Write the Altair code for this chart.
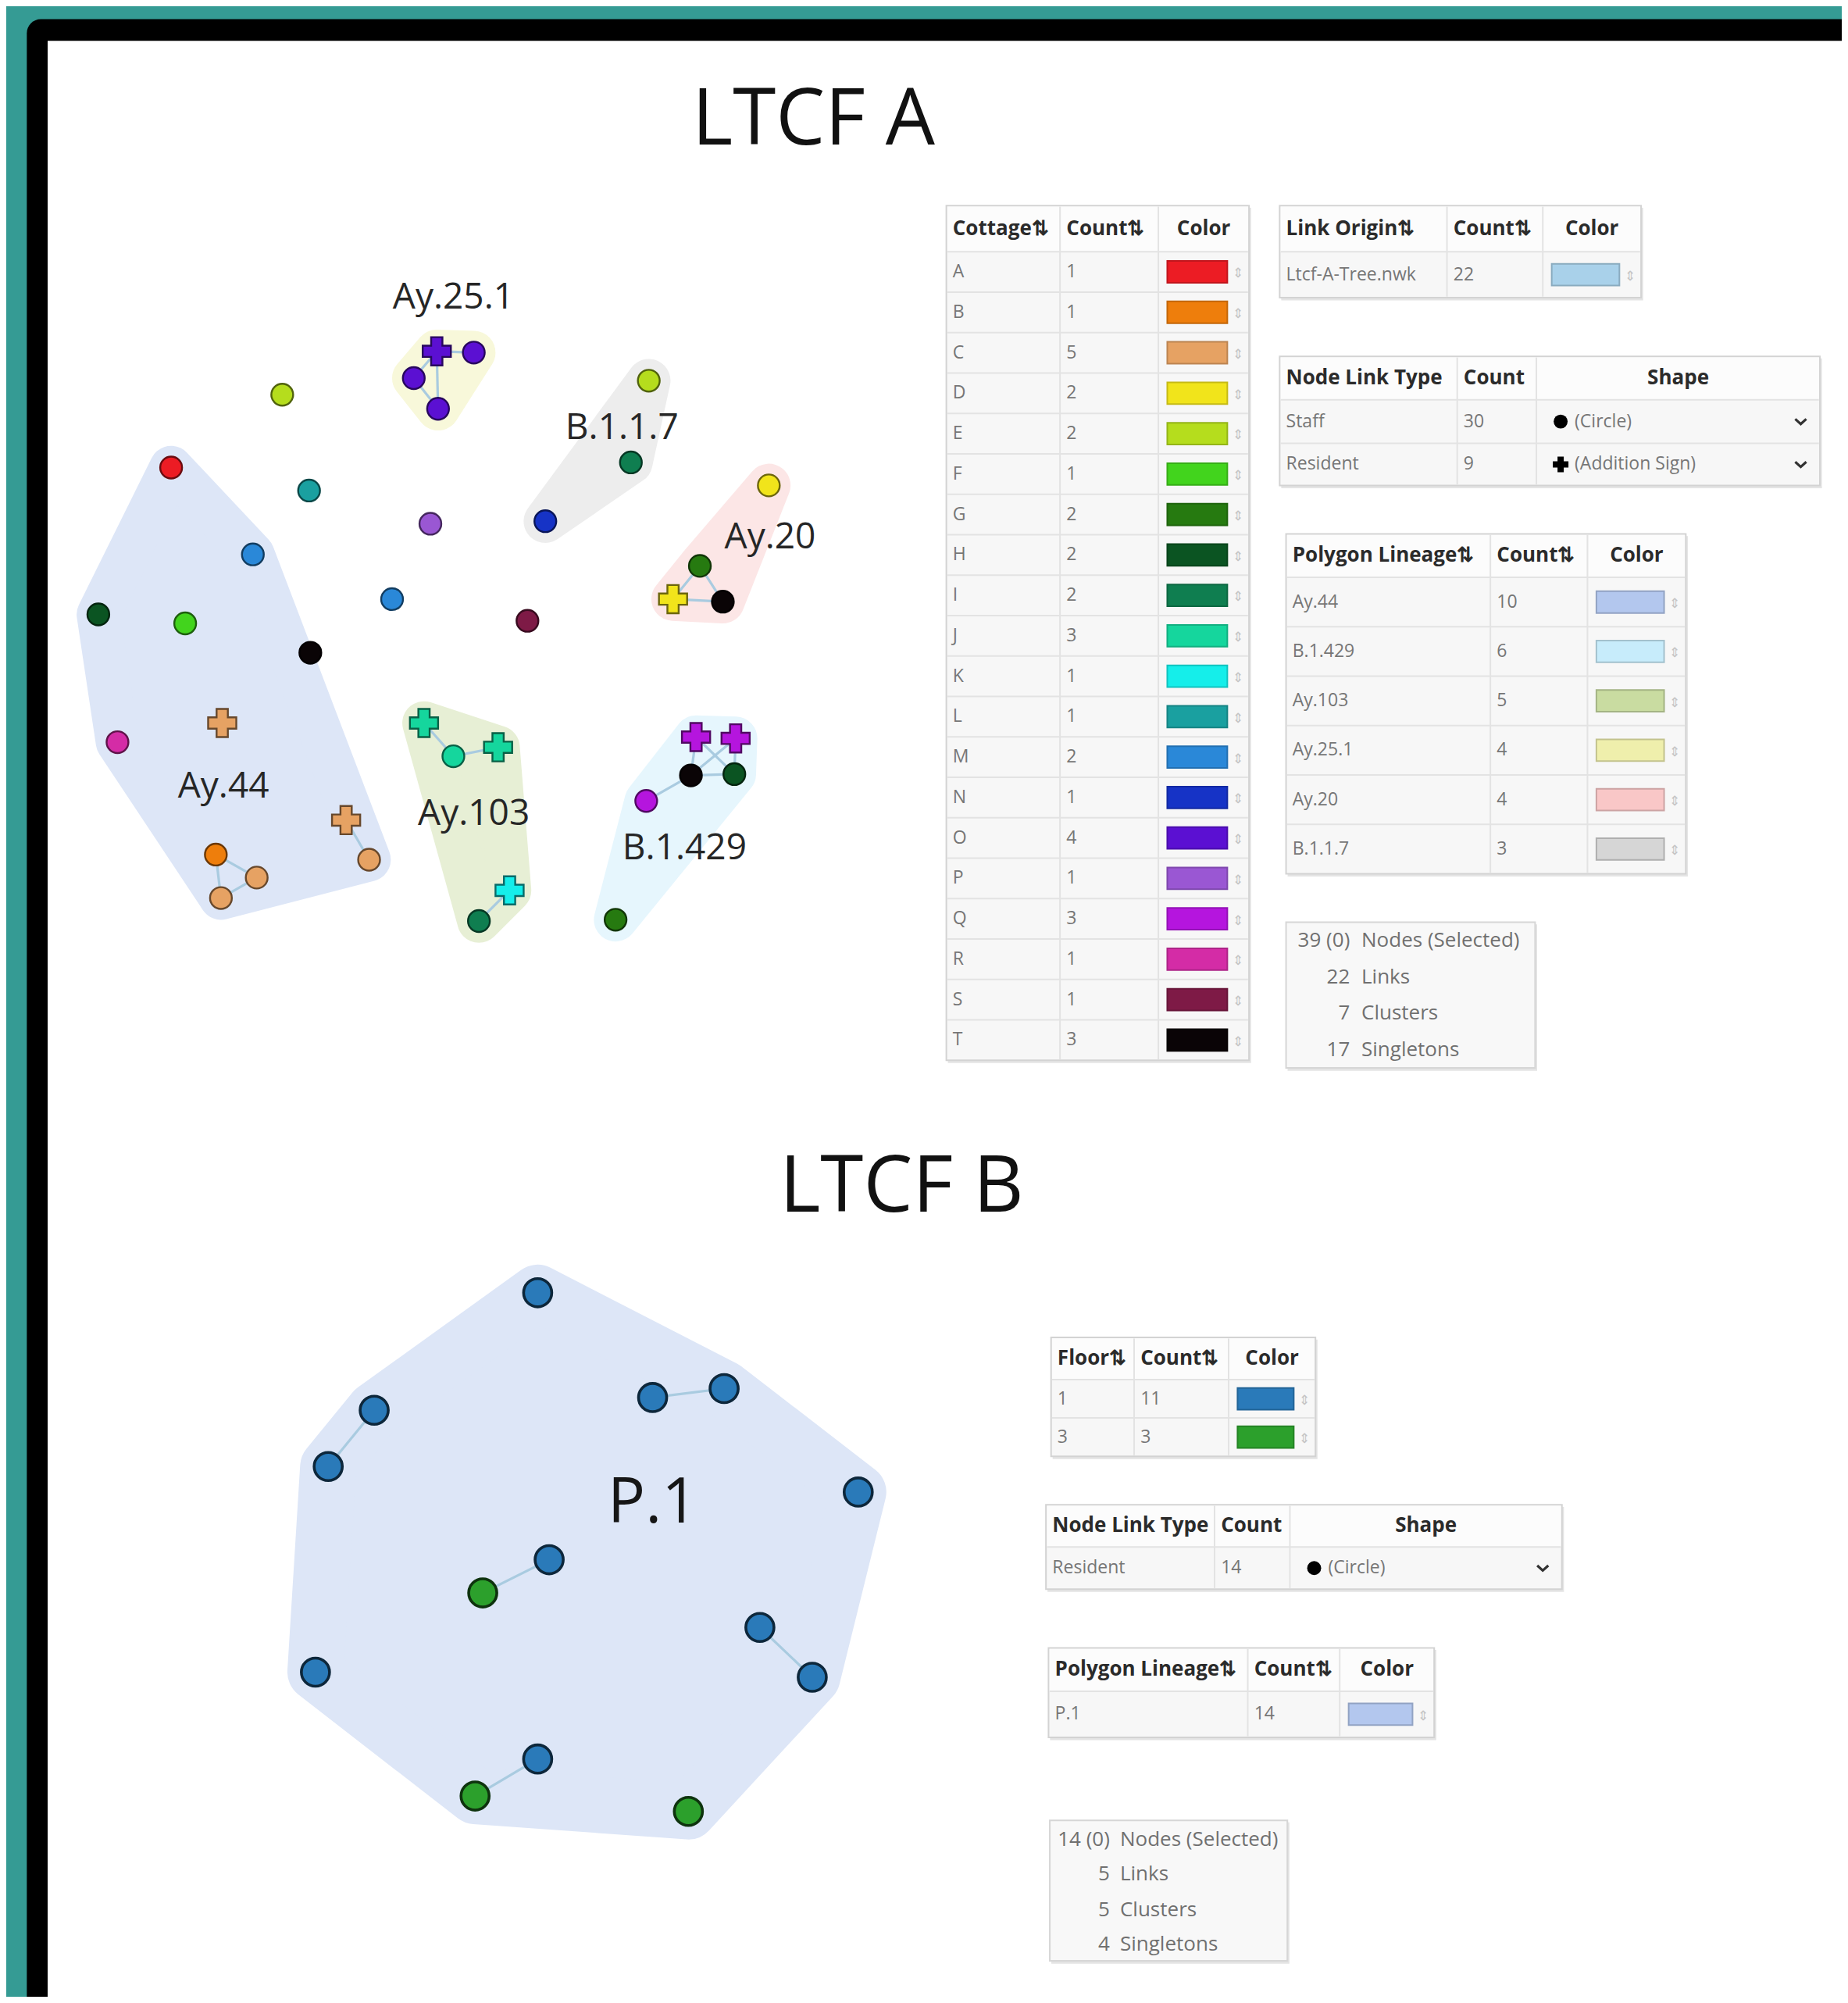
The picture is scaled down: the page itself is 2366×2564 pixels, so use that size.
import altair as alt
import pandas as pd

# ===================== values =====================
cottage_names = list("ABCDEFGHIJKLMNOPQRST")
cottage_counts = [1, 1, 5, 2, 2, 1, 2, 2, 2, 3, 1, 1, 2, 1, 4, 1, 3, 1, 1, 3]
cottage_colors = ["#ec1c24", "#ee7e0c", "#e6a263", "#f1e41b", "#b5dd1d", "#42d41d",
                  "#267a10", "#0b5422", "#0f7e50", "#15d69d", "#15eeea", "#1aa0a0",
                  "#2a88d8", "#1633c6", "#5b10d2", "#9a57d3", "#b515de", "#d42ca6",
                  "#7e1a46", "#0a0406"]

link_origins = ["Ltcf-A-Tree.nwk"]
link_origin_counts = [22]
link_origin_colors = ["#a9d1ea"]

node_link_types_a = ["Staff", "Resident"]
node_link_counts_a = [30, 9]
node_link_shapes_a = ["circle", "cross"]
node_link_shape_names_a = ["(Circle)", "(Addition Sign)"]

lineages_a = ["Ay.44", "B.1.429", "Ay.103", "Ay.25.1", "Ay.20", "B.1.1.7"]
lineage_counts_a = [10, 6, 5, 4, 4, 3]
lineage_colors_a = ["#b3c7ee", "#c7ecfb", "#c9dca1", "#efefac", "#f9c7c7", "#d6d6d6"]

summary_labels = ["Nodes (Selected)", "Links", "Clusters", "Singletons"]
summary_a = ["39 (0)", "22", "7", "17"]

# LTCF A network layout
a_x = [342, 371, 324, 343, 221, 242, 337, 307, 243, 413, 508, 494, 427, 602, 548, 527, 566,
       134, 198, 77, 145, 92, 174, 271, 289, 169, 201, 173, 332, 355, 390, 399, 375,
       545, 576, 541, 575, 506, 482]
a_y = [275, 276, 296, 320, 309, 384, 410, 469, 511, 486, 298, 362, 408, 380, 443, 469, 471,
       366, 434, 481, 488, 581, 566, 642, 673, 669, 687, 703, 566, 592, 585, 697, 721,
       577, 578, 607, 606, 627, 720]
a_cottage = ["O", "O", "O", "O", "E", "L", "P", "M", "T", "S", "E", "I", "N", "D", "G", "D", "T",
             "A", "M", "H", "F", "R", "C", "C", "C", "B", "C", "C", "J", "J", "J", "K", "I",
             "Q", "Q", "T", "H", "Q", "G"]
a_type = ["Resident", "Staff", "Staff", "Staff", "Staff", "Staff", "Staff", "Staff", "Staff", "Staff",
          "Staff", "Staff", "Staff", "Staff", "Staff", "Resident", "Staff",
          "Staff", "Staff", "Staff", "Staff", "Staff", "Resident", "Resident", "Staff", "Staff", "Staff", "Staff",
          "Resident", "Staff", "Resident", "Resident", "Staff",
          "Resident", "Resident", "Staff", "Staff", "Staff", "Staff"]
a_lineage = ["Ay.25.1"] * 4 + [""] * 6 + ["B.1.1.7"] * 3 + ["Ay.20"] * 4 + ["Ay.44"] * 11 + \
            ["Ay.103"] * 5 + ["B.1.429"] * 6
a_links = [(0, 1), (0, 2), (0, 3), (2, 3), (14, 15), (14, 16), (15, 16), (23, 24), (25, 26),
           (25, 27), (26, 27), (28, 29), (29, 30), (31, 32), (33, 35), (33, 36), (34, 35),
           (34, 36), (35, 36), (35, 37)]
a_label_text = ["Ay.25.1", "B.1.1.7", "Ay.20", "Ay.44", "Ay.103", "B.1.429"]
a_label_x = [355, 487, 603, 175, 371, 536]
a_label_y = [233, 335, 421, 616, 637, 664]

floors = ["1", "3"]
floor_counts = [11, 3]
floor_colors = ["#2a7ab9", "#2ca02c"]
node_link_types_b = ["Resident"]
node_link_counts_b = [14]
lineages_b = ["P.1"]
lineage_counts_b = [14]
lineage_colors_b = ["#b3c7ee"]
summary_b = ["14 (0)", "5", "5", "4"]

b_x = [421, 293, 257, 511, 567, 672, 430, 378, 595, 636, 247, 421, 372, 539]
b_y = [1012, 1104, 1148, 1094, 1087, 1168, 1221, 1247, 1274, 1313, 1309, 1377, 1406, 1418]
b_floor = ["1", "1", "1", "1", "1", "1", "1", "3", "1", "1", "1", "1", "3", "3"]
b_lineage = ["P.1"] * 14
b_links = [(1, 2), (3, 4), (6, 7), (8, 9), (11, 12)]
b_label_text = ["P.1"]
b_label_x = [511]
b_label_y = [1177]

titles = ["LTCF A", "LTCF B"]
title_x = [637, 706]
title_y = [95, 930]

# ===================== layout / helpers =====================
S = 2366 / 1447
SY = 2564 / 1568
W, H = 2350, 2548
X0, X1 = 8 / S, (W + 8) / S
Y0, Y1 = 8 / SY, (H + 8) / SY
xs = alt.Scale(domain=[X0, X1], nice=False, zero=False)
ys = alt.Scale(domain=[Y0, Y1], nice=False, zero=False, reverse=True)
FONT = "Open Sans"
HEAD, BODY, SUMM = 26, 23, 26


def ex(f="x"):
    return alt.X(f"{f}:Q", scale=xs, axis=None)


def ey(f="y"):
    return alt.Y(f"{f}:Q", scale=ys, axis=None)


def mix(c, a):
    r, g, b = int(c[1:3], 16), int(c[3:5], 16), int(c[5:7], 16)
    f = lambda v: int(round(255 - a * (255 - v)))
    return "#%02x%02x%02x" % (f(r), f(g), f(b))


def dark(c, k):
    r, g, b = int(c[1:3], 16), int(c[3:5], 16), int(c[5:7], 16)
    return "#%02x%02x%02x" % (int(r * k), int(g * k), int(b * k))


def hull(pts):
    pts = sorted(set(pts))
    if len(pts) <= 2:
        return pts

    def cr(o, a, b):
        return (a[0] - o[0]) * (b[1] - o[1]) - (a[1] - o[1]) * (b[0] - o[0])
    lo, up = [], []
    for p in pts:
        while len(lo) >= 2 and cr(lo[-2], lo[-1], p) <= 0:
            lo.pop()
        lo.append(p)
    for p in reversed(pts):
        while len(up) >= 2 and cr(up[-2], up[-1], p) <= 0:
            up.pop()
        up.append(p)
    return lo[:-1] + up[:-1]


layers = []

# ---- frame ----
frame = pd.DataFrame([
    dict(x=X0, x2=X1, y=Y0, y2=Y1, f="#359b94"),
])
layers.append(alt.Chart(frame).mark_rect().encode(x=ex(), x2="x2:Q", y=ey(), y2="y2:Q",
                                                  fill=alt.Fill("f:N", scale=None)))
frame2 = pd.DataFrame([dict(x=21, x2=X1, y=15, y2=Y1, f="#000000")])
layers.append(alt.Chart(frame2).mark_rect(cornerRadiusTopLeft=18).encode(
    x=ex(), x2="x2:Q", y=ey(), y2="y2:Q", fill=alt.Fill("f:N", scale=None)))
frame3 = pd.DataFrame([dict(x=37.3, x2=X1, y=32, y2=Y1, f="#ffffff")])
layers.append(alt.Chart(frame3).mark_rect().encode(
    x=ex(), x2="x2:Q", y=ey(), y2="y2:Q", fill=alt.Fill("f:N", scale=None)))

# ---- hulls ----
lin_color = dict(zip(lineages_a + lineages_b, lineage_colors_a + lineage_colors_b))


def add_hulls(xv, yv, lin, pad):
    for name in dict.fromkeys([l for l in lin if l]):
        pts = [(xv[i], yv[i]) for i in range(len(xv)) if lin[i] == name]
        hp = hull(pts)
        df = pd.DataFrame(dict(x=[p[0] for p in hp], y=[p[1] for p in hp], i=list(range(len(hp)))))
        col = mix(lin_color[name], 0.45)
        layers.append(alt.Chart(df).mark_line(
            interpolate="linear-closed", fill=col, stroke=col, strokeWidth=2 * pad * S,
            strokeJoin="round", strokeCap="round").encode(x=ex(), y=ey(), order="i:Q"))


add_hulls(a_x, a_y, a_lineage, 17)
add_hulls(b_x, b_y, b_lineage, 22)

# ---- links ----
links = [dict(x=a_x[s], y=a_y[s], x2=a_x[t], y2=a_y[t]) for s, t in a_links] + \
        [dict(x=b_x[s], y=b_y[s], x2=b_x[t], y2=b_y[t]) for s, t in b_links]
layers.append(alt.Chart(pd.DataFrame(links)).mark_rule(color="#a9cbe0", strokeWidth=3.2).encode(
    x=ex(), y=ey(), x2="x2:Q", y2="y2:Q"))

# ---- nodes ----
ccol = dict(zip(cottage_names, cottage_colors))
fcol = dict(zip(floors, floor_colors))
nodes = []
for i in range(len(a_x)):
    c = ccol[a_cottage[i]]
    res = a_type[i] == "Resident"
    nodes.append(dict(x=a_x[i], y=a_y[i], shape="cross" if res else "circle",
                      size=1300 if res else 780, f=c, s=dark(c, 0.45), w=2.4))
for i in range(len(b_x)):
    c = fcol[b_floor[i]]
    nodes.append(dict(x=b_x[i], y=b_y[i], shape="circle", size=1300, f=c, s=dark(c, 0.32), w=3.6))
layers.append(alt.Chart(pd.DataFrame(nodes)).mark_point(filled=True, opacity=1).encode(
    x=ex(), y=ey(), shape=alt.Shape("shape:N", scale=None), size=alt.Size("size:Q", scale=None),
    fill=alt.Fill("f:N", scale=None), stroke=alt.Stroke("s:N", scale=None),
    strokeWidth=alt.StrokeWidth("w:Q", scale=None)))

# ---- tables ----
texts, boxes, seps, swatches, syms, chevs = [], [], [], [], [], []


def add_text(x, y, t, size, color, align="left", weight="normal"):
    texts.append(dict(x=x, y=y, t=t, s=size, c=color, al=align, wt=weight))


def add_table(cols, rows, header, body):
    x0, x1, y0, y1 = cols[0], cols[-1], rows[0], rows[-1]
    boxes.append(dict(x=x0 + 1.2, x2=x1 + 1.6, y=y0 + 1.6, y2=y1 + 2.2, f="#e4e4e4", s="#e4e4e4", w=0))
    boxes.append(dict(x=x0, x2=x1, y=y0, y2=y1, f="#f7f7f7", s="#d3d3d3", w=2))
    boxes.append(dict(x=x0 + 0.8, x2=x1 - 0.8, y=y0 + 0.8, y2=rows[1], f="#fcfcfc", s="#fcfcfc", w=0))
    for c in cols[1:-1]:
        seps.append(dict(x=c, x2=c, y=y0 + 0.8, y2=y1 - 0.8))
    for r in rows[1:-1]:
        seps.append(dict(x=x0 + 0.8, x2=x1 - 0.8, y=r, y2=r))
    hy = (rows[0] + rows[1]) / 2
    for j, (txt, al) in enumerate(header):
        if al == "center":
            add_text((cols[j] + cols[j + 1]) / 2, hy, txt, HEAD, "#2b2b2b", "center", "bold")
        else:
            add_text(cols[j] + 5, hy, txt, HEAD, "#2b2b2b", "left", "bold")
    for i, row in enumerate(body):
        cy = (rows[i + 1] + rows[i + 2]) / 2
        for j, cell in enumerate(row):
            l, r = cols[j], cols[j + 1]
            if isinstance(cell, str):
                add_text(l + 5, cy, cell, BODY, "#767676")
            elif cell[0] == "swatch":
                swatches.append(dict(x=l + 7, x2=r - 17, y=cy - 8.5, y2=cy + 8.5, f=cell[1],
                                     s=dark(cell[1], 0.82)))
                add_text(r - 8.5, cy + 1.5, "⇕", 17, "#c4c4c4", "center")
            elif cell[0] == "shape":
                syms.append(dict(x=l + 19, y=cy, shape=cell[1], size=320 if cell[1] == "circle" else 400))
                add_text(l + 30, cy, cell[2], BODY, "#767676")
                chevs.append(dict(x=r - 15, y=cy))


def add_summary(x0, x1, y0, y1, rows_y, values, numx, labx):
    boxes.append(dict(x=x0 + 1.2, x2=x1 + 1.6, y=y0 + 1.6, y2=y1 + 2.2, f="#e4e4e4", s="#e4e4e4", w=0))
    boxes.append(dict(x=x0, x2=x1, y=y0, y2=y1, f="#f8f8f8", s="#d6d6d6", w=2))
    for yy, v, lab in zip(rows_y, values, summary_labels):
        add_text(numx, yy, v, SUMM, "#707070", "right")
        add_text(labx, yy, lab, SUMM, "#707070", "left")


# LTCF A tables
n_c = len(cottage_names)
add_table([741, 830, 907, 978], [161, 197] + [197 + (830 - 197) * (k + 1) / n_c for k in range(n_c)],
          [("Cottage⇅", "left"), ("Count⇅", "left"), ("Color", "center")],
          [[cottage_names[k], str(cottage_counts[k]), ("swatch", cottage_colors[k])] for k in range(n_c)])
add_table([1002, 1133, 1208, 1285], [161, 197, 233],
          [("Link Origin⇅", "left"), ("Count⇅", "left"), ("Color", "center")],
          [[link_origins[k], str(link_origin_counts[k]), ("swatch", link_origin_colors[k])]
           for k in range(len(link_origins))])
add_table([1002, 1141, 1203, 1425], [279, 313, 347, 380],
          [("Node Link Type", "left"), ("Count", "left"), ("Shape", "center")],
          [[node_link_types_a[k], str(node_link_counts_a[k]),
            ("shape", node_link_shapes_a[k], node_link_shape_names_a[k])] for k in range(2)])
n_l = len(lineages_a)
add_table([1007, 1167, 1243, 1320], [418, 452] + [452 + (684 - 452) * (k + 1) / n_l for k in range(n_l)],
          [("Polygon Lineage⇅", "left"), ("Count⇅", "left"), ("Color", "center")],
          [[lineages_a[k], str(lineage_counts_a[k]), ("swatch", lineage_colors_a[k])] for k in range(n_l)])
add_summary(1007, 1202, 722, 836, [736, 765, 793, 822], summary_a, 1057, 1066)

# LTCF B tables
add_table([823, 888, 962, 1030], [1047, 1080, 1110, 1140],
          [("Floor⇅", "left"), ("Count⇅", "left"), ("Color", "center")],
          [[floors[k], str(floor_counts[k]), ("swatch", floor_colors[k])] for k in range(len(floors))])
add_table([819, 951, 1010, 1223], [1178, 1211, 1244],
          [("Node Link Type", "left"), ("Count", "left"), ("Shape", "center")],
          [[node_link_types_b[0], str(node_link_counts_b[0]), ("shape", "circle", "(Circle)")]])
add_table([821, 977, 1049, 1123], [1290, 1324, 1360],
          [("Polygon Lineage⇅", "left"), ("Count⇅", "left"), ("Color", "center")],
          [[lineages_b[0], str(lineage_counts_b[0]), ("swatch", lineage_colors_b[0])]])
add_summary(822, 1008, 1425, 1535, [1440, 1467, 1495, 1522], summary_b, 869, 877)

# titles and cluster labels
for t, x, y in zip(titles, title_x, title_y):
    add_text(x, y, t, 100, "#111111", "center")
for t, x, y in zip(a_label_text, a_label_x, a_label_y):
    add_text(x, y, t, 46, "#262626", "center")
for t, x, y in zip(b_label_text, b_label_x, b_label_y):
    add_text(x, y, t, 80, "#161616", "center")

rect_enc = dict(x=ex(), x2="x2:Q", y=ey(), y2="y2:Q", fill=alt.Fill("f:N", scale=None),
                stroke=alt.Stroke("s:N", scale=None), strokeWidth=alt.StrokeWidth("w:Q", scale=None))
layers.append(alt.Chart(pd.DataFrame(boxes)).mark_rect().encode(**rect_enc))
layers.append(alt.Chart(pd.DataFrame(seps)).mark_rule(color="#e3e3e3", strokeWidth=2).encode(
    x=ex(), x2="x2:Q", y=ey(), y2="y2:Q"))
sw = pd.DataFrame(swatches)
sw["w"] = 2
layers.append(alt.Chart(sw).mark_rect().encode(**rect_enc))
layers.append(alt.Chart(pd.DataFrame(syms)).mark_point(filled=True, color="#000000", opacity=1).encode(
    x=ex(), y=ey(), shape=alt.Shape("shape:N", scale=None), size=alt.Size("size:Q", scale=None)))
layers.append(alt.Chart(pd.DataFrame(chevs)).mark_point(
    shape="M -1 -0.45 L 0 0.45 L 1 -0.45", filled=False, color="#333333", strokeWidth=3.2,
    size=200, opacity=1).encode(x=ex(), y=ey()))

tdf = pd.DataFrame(texts)
for (al, wt), g in tdf.groupby(["al", "wt"]):
    layers.append(alt.Chart(g.reset_index(drop=True)).mark_text(
        align=al, baseline="middle", fontWeight=wt, font=FONT).encode(
        x=ex(), y=ey(), text="t:N", size=alt.Size("s:Q", scale=None),
        color=alt.Color("c:N", scale=None)))

chart = alt.layer(*layers).properties(
    width=W, height=H, padding=0, background="#359b94",
    autosize=alt.AutoSizeParams(type="none")
).configure_view(stroke=None)

chart.save("out.html", embed_options={"renderer": "svg", "actions": False})
